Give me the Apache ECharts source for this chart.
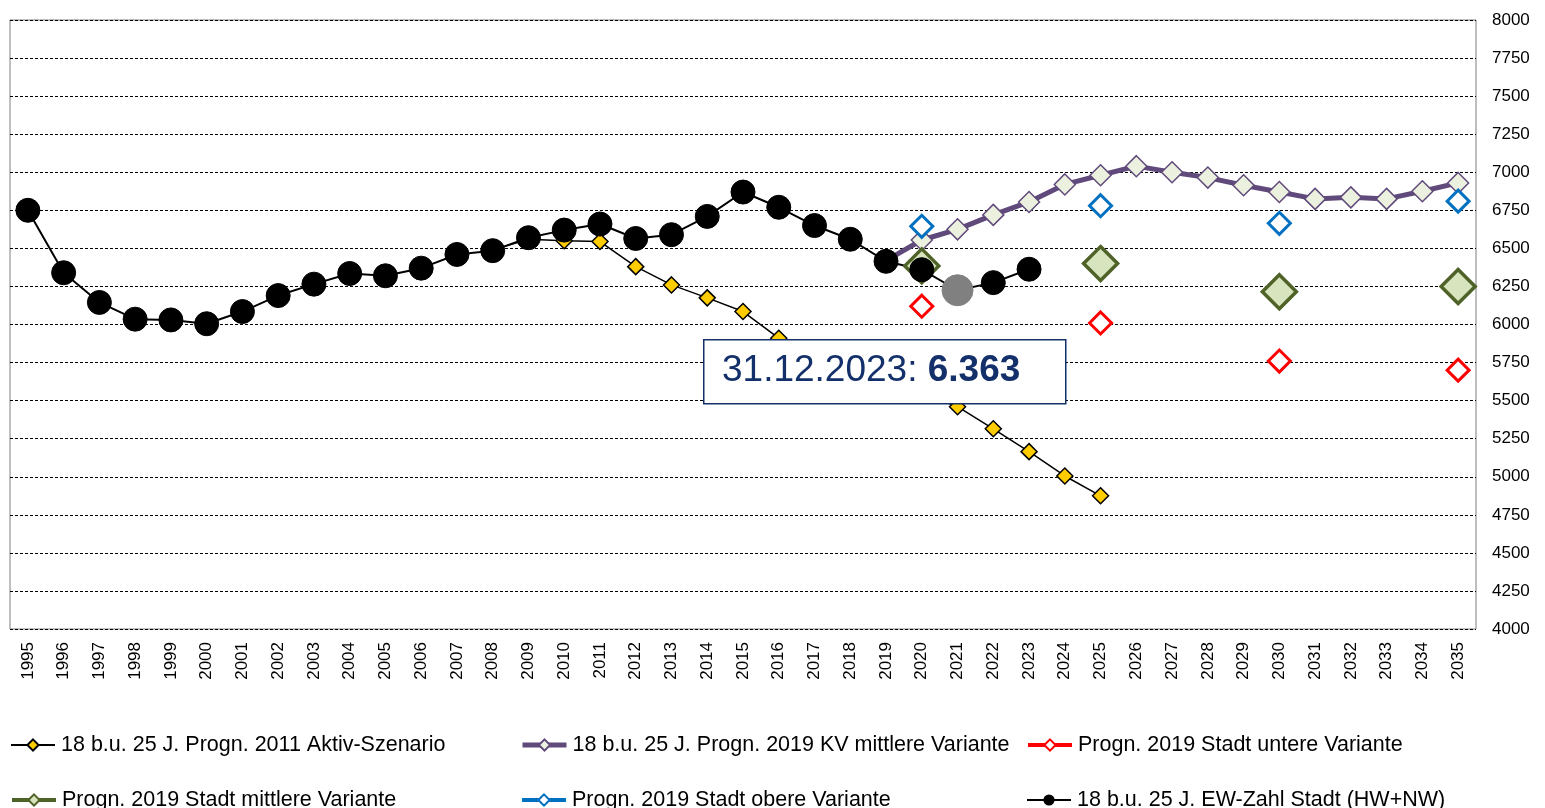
<!DOCTYPE html>
<html>
<head>
<meta charset="utf-8">
<title>18 b.u. 25 J.</title>
<script src="https://cdn.jsdelivr.net/npm/echarts@6/dist/echarts.min.js"></script>
<style>
  html, body { margin: 0; padding: 0; background: #fff; }
  #chart { width: 1545px; height: 808px; }
</style>
</head>
<body>
<div id="chart"></div>
<script>
var years = ['1995', '1996', '1997', '1998', '1999', '2000', '2001', '2002', '2003', '2004',
  '2005', '2006', '2007', '2008', '2009', '2010', '2011', '2012', '2013', '2014',
  '2015', '2016', '2017', '2018', '2019', '2020', '2021', '2022', '2023', '2024',
  '2025', '2026', '2027', '2028', '2029', '2030', '2031', '2032', '2033', '2034', '2035'];

// EW-Zahl Stadt, 1995..2023
var ewZahl = [6750, 6340, 6145, 6035, 6030, 6005, 6085, 6190, 6265, 6335,
  6320, 6370, 6460, 6485, 6570, 6620, 6660, 6565, 6590, 6710,
  6870, 6770, 6650, 6560, 6415, 6360, 6225, 6275, 6363];
var grayYear = '2021';

// Progn. 2011 Aktiv-Szenario, 2008..2025
var aktivStart = '2008';
var aktiv = [6490, 6560, 6550, 6545, 6380, 6260, 6175, 6085, 5910, 5820,
  5730, 5640, 5550, 5460, 5315, 5165, 5005, 4875];

// Progn. 2019 KV mittlere Variante, 2019..2035
var kvStart = '2019';
var kv = [6420, 6555, 6625, 6720, 6805, 6920, 6980, 7040, 7000, 6965,
  6915, 6870, 6825, 6835, 6825, 6875, 6930];

// Progn. 2019 Stadt
var stadtYears = ['2020', '2025', '2030', '2035'];
var stadtUntere = [6120, 6010, 5760, 5700];
var stadtMittlere = [6385, 6400, 6215, 6250];
var stadtObere = [6645, 6780, 6665, 6810];

var names = [
  '18 b.u. 25 J. Progn. 2011 Aktiv-Szenario',
  '18 b.u. 25 J. Progn. 2019 KV mittlere Variante',
  'Progn. 2019 Stadt untere Variante',
  'Progn. 2019 Stadt mittlere Variante',
  'Progn. 2019 Stadt obere Variante',
  '18 b.u. 25 J. EW-Zahl Stadt (HW+NW)'
];

function fromYear(start, values) {
  var off = years.indexOf(start);
  return years.map(function (y, i) {
    var v = values[i - off];
    return v === undefined ? null : v;
  });
}
function atYears(values) {
  return years.map(function (y) {
    var k = stadtYears.indexOf(y);
    return k < 0 ? null : values[k];
  });
}

var ewData = fromYear('1995', ewZahl).map(function (v, i) {
  if (years[i] === grayYear) {
    return { value: v, symbolSize: 31, itemStyle: { color: '#808080', borderColor: '#808080' } };
  }
  return v;
});

var font = 'Liberation Sans, Arial, sans-serif';
var navy = '#13306a';

// legend: 3 columns x 2 rows
var legendSpots = [
  [0, 10, 734], [1, 520, 734], [2, 1026, 734],
  [3, 10, 789], [4, 520, 789], [5, 1026, 789]
];
var legendLineWidth = [2, 5, 4, 4, 4, 2];

var chart = echarts.init(document.getElementById('chart'));
chart.setOption({
  animation: false,
  textStyle: { fontFamily: font, color: '#000' },
  grid: {
    left: 10, right: 69, top: 20, bottom: 179,
    show: true, borderColor: '#7f7f7f', borderWidth: 1
  },
  legend: legendSpots.map(function (s) {
    return {
      data: [{ name: names[s[0]], lineStyle: { width: legendLineWidth[s[0]] } }],
      left: s[1], top: s[2],
      padding: 0,
      itemWidth: 44, itemHeight: 14, itemGap: 0,
      selectedMode: false,
      textStyle: { fontSize: 21.5, color: '#000', fontFamily: font, padding: [0, 0, 0, 1] }
    };
  }),
  xAxis: {
    type: 'category',
    data: years,
    boundaryGap: true,
    axisLine: { show: false },
    axisTick: { show: false },
    axisLabel: { rotate: 90, interval: 0, fontSize: 17, margin: 13, color: '#000' }
  },
  yAxis: {
    type: 'value',
    position: 'right',
    min: 4000,
    max: 8000,
    interval: 250,
    axisLine: { show: false },
    axisTick: { show: false },
    axisLabel: {
      fontSize: 17, margin: 16, color: '#000',
      formatter: function (v) { return String(v); }
    },
    splitLine: { lineStyle: { color: '#000', width: 1, type: [3, 2] } }
  },
  series: [
    {
      name: names[0], type: 'line', data: fromYear(aktivStart, aktiv),
      symbol: 'diamond', symbolSize: 16,
      itemStyle: { color: '#ffcc00', borderColor: '#000', borderWidth: 1.5 },
      lineStyle: { color: '#000', width: 1.5 }
    },
    {
      name: names[1], type: 'line', data: fromYear(kvStart, kv),
      symbol: 'diamond', symbolSize: 21,
      itemStyle: { color: '#ebf1de', borderColor: '#604a7b', borderWidth: 1.5 },
      lineStyle: { color: '#604a7b', width: 5 }
    },
    {
      name: names[2], type: 'line', data: atYears(stadtUntere),
      symbol: 'diamond', symbolSize: 22,
      itemStyle: { color: '#fff', borderColor: '#ff0000', borderWidth: 3 },
      lineStyle: { color: '#ff0000', width: 4 }
    },
    {
      name: names[3], type: 'line', data: atYears(stadtMittlere),
      symbol: 'diamond', symbolSize: 34,
      itemStyle: { color: '#d7e4bd', borderColor: '#4f6228', borderWidth: 3.5 },
      lineStyle: { color: '#4f6228', width: 4 }
    },
    {
      name: names[4], type: 'line', data: atYears(stadtObere),
      symbol: 'diamond', symbolSize: 22,
      itemStyle: { color: '#fff', borderColor: '#0070c0', borderWidth: 3 },
      lineStyle: { color: '#0070c0', width: 4 }
    },
    {
      name: names[5], type: 'line', data: ewData,
      symbol: 'circle', symbolSize: 24,
      itemStyle: { color: '#000', borderColor: '#000' },
      lineStyle: { color: '#000', width: 2 }
    }
  ],
  graphic: [
    {
      type: 'rect', left: 703, top: 339, z: 100,
      shape: { width: 362, height: 64 },
      style: { fill: '#fff', stroke: navy, lineWidth: 1.5 }
    },
    {
      type: 'text', left: 722, top: 352, z: 101,
      style: {
        text: '{a|31.12.2023: }{b|6.363}',
        fill: navy,
        rich: {
          a: { fontSize: 37, fontFamily: font, fill: navy },
          b: { fontSize: 37, fontFamily: font, fontWeight: 'bold', fill: navy }
        }
      }
    }
  ]
});
</script>
</body>
</html>
